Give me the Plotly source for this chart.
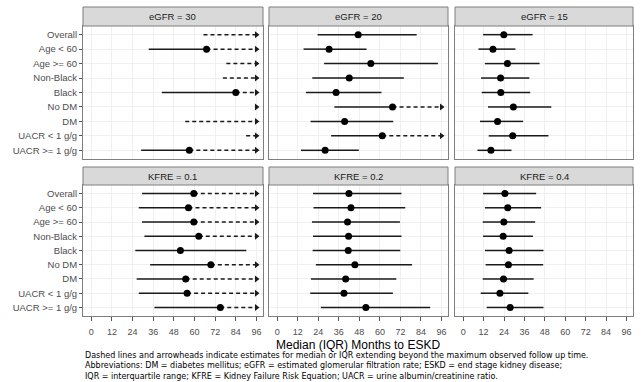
import plotly.graph_objects as go

# ---------------- data ----------------
categories = ["Overall", "Age < 60", "Age >= 60", "Non-Black", "Black",
              "No DM", "DM", "UACR < 1 g/g", "UACR >= 1 g/g"]
panel_titles = ["eGFR = 30", "eGFR = 20", "eGFR = 15",
                "KFRE = 0.1", "KFRE = 0.2", "KFRE = 0.4"]
x_ticks = [0, 12, 24, 36, 48, 60, 72, 84, 96]
MAX_FU = 96  # maximum observed follow-up (months); None = beyond it

egfr30_lower  = [65.2, 33.4, 78.5, 76.5, 41.0, None, 54.6, 90.0, 29.0]
egfr30_median = [None, 67.0, None, None, 84.0, None, None, None, 57.0]
egfr30_upper  = [None, None, None, None, None, None, None, None, None]

egfr20_lower  = [23.6, 15.4, 27.4, 20.5, 16.8, 33.4, 19.5, 31.5, 13.9]
egfr20_median = [47.3, 30.3, 54.7, 42.1, 34.4, 67.4, 39.4, 61.4, 28.0]
egfr20_upper  = [81.5, 52.2, 93.9, 74.0, 60.9, None, 67.8, None, 47.7]

egfr15_lower  = [11.7, 9.0, 12.8, 10.5, 10.9, 14.6, 9.9, 15.0, 8.4]
egfr15_median = [23.9, 17.5, 26.0, 22.0, 22.1, 29.5, 20.2, 29.1, 16.3]
egfr15_upper  = [40.8, 30.7, 44.9, 38.9, 39.4, 51.8, 35.2, 50.1, 28.4]

kfre01_lower  = [29.5, 27.6, 29.5, 30.9, 25.6, 34.2, 26.4, 27.6, 36.7]
kfre01_median = [59.6, 56.5, 59.6, 62.5, 51.8, 69.5, 54.9, 55.7, 75.0]
kfre01_upper  = [None, None, None, None, 90.1, None, None, None, None]

kfre02_lower  = [20.9, 21.2, 20.3, 20.9, 20.7, 22.6, 19.7, 19.3, 25.5]
kfre02_median = [41.9, 43.1, 41.1, 41.7, 41.5, 45.4, 40.0, 39.0, 51.8]
kfre02_upper  = [72.6, 74.8, 71.7, 72.6, 71.9, 78.8, 69.6, 67.6, 89.4]

kfre04_lower  = [11.7, 12.8, 11.5, 11.7, 12.8, 13.2, 11.5, 10.3, 13.8]
kfre04_median = [24.5, 26.2, 23.9, 23.5, 27.0, 26.6, 23.7, 21.6, 27.6]
kfre04_upper  = [42.9, 45.8, 42.3, 41.0, 47.2, 47.0, 41.4, 38.3, 47.2]

panels = [
    (egfr30_lower, egfr30_median, egfr30_upper),
    (egfr20_lower, egfr20_median, egfr20_upper),
    (egfr15_lower, egfr15_median, egfr15_upper),
    (kfre01_lower, kfre01_median, kfre01_upper),
    (kfre02_lower, kfre02_median, kfre02_upper),
    (kfre04_lower, kfre04_median, kfre04_upper),
]

# ---------------- layout geometry (pixels) ----------------
W, H = 642, 382
col_px = [(83, 263), (269, 448), (455, 633)]
row_plot_px = [(26, 159), (185, 316)]
row_strip_px = [(7, 26), (167, 185)]

def px_x(p):
    return p / W

def px_y(p):
    return 1 - p / H

FONT = "Liberation Sans, Arial, Helvetica, sans-serif"
CAP_FONT = "DejaVu Sans, Liberation Sans, Arial, sans-serif"
LINE_COLOR = "#1a1a1a"
BORDER = "#7f7f7f"

fig = go.Figure()
layout = dict(
    width=W, height=H, margin=dict(l=0, r=0, t=0, b=0),
    paper_bgcolor="white", plot_bgcolor="white", showlegend=False,
    font=dict(family=FONT, color="#1a1a1a"),
)
shapes = []
annotations = []

for k, (lo_arr, med_arr, up_arr) in enumerate(panels):
    r, c = divmod(k, 3)
    ax = "" if k == 0 else str(k + 1)
    xref, yref = "x" + ax, "y" + ax

    sx, sy, dx, dy, ay, mx, my = [], [], [], [], [], [], []
    for i, (lo, med, up) in enumerate(zip(lo_arr, med_arr, up_arr)):
        if lo is not None and med is not None:
            sx += [lo, med, None]; sy += [i, i, None]
        if med is not None and up is not None:
            sx += [med, up, None]; sy += [i, i, None]
        if med is None and lo is not None:
            dx += [lo, MAX_FU, None]; dy += [i, i, None]
        if med is not None and up is None:
            dx += [med, MAX_FU, None]; dy += [i, i, None]
        if up is None:
            ay.append(i)
        if med is not None:
            mx.append(med); my.append(i)

    fig.add_trace(go.Scatter(x=sx, y=sy, mode="lines", xaxis=xref, yaxis=yref,
                             line=dict(color=LINE_COLOR, width=1.5), hoverinfo="skip"))
    fig.add_trace(go.Scatter(x=dx, y=dy, mode="lines", xaxis=xref, yaxis=yref,
                             line=dict(color=LINE_COLOR, width=1.5, dash="4px,3px"),
                             hoverinfo="skip"))
    fig.add_trace(go.Scatter(x=[MAX_FU] * len(ay), y=ay, mode="markers",
                             xaxis=xref, yaxis=yref,
                             marker=dict(symbol="triangle-right", size=6, color=LINE_COLOR),
                             hoverinfo="skip"))
    fig.add_trace(go.Scatter(x=mx, y=my, mode="markers", xaxis=xref, yaxis=yref,
                             marker=dict(symbol="circle", size=7, color="black"),
                             hoverinfo="skip"))

    x0, x1 = col_px[c]
    y0, y1 = row_plot_px[r]
    bottom = (r == 1)
    left = (c == 0)
    layout["xaxis" + ax] = dict(
        domain=[px_x(x0), px_x(x1)], anchor=yref, range=[-4.8, 99.8],
        tickvals=x_ticks, ticktext=[str(t) for t in x_ticks],
        showticklabels=bottom, ticks="outside" if bottom else "",
        ticklen=4, tickcolor="#555555", tickwidth=1, ticklabelstandoff=3,
        tickfont=dict(size=9, color="#4d4d4d", family=FONT),
        showgrid=True, gridcolor="#f0f0f0", gridwidth=1, zeroline=False,
        showline=True, mirror=True, linecolor=BORDER, linewidth=1,
        fixedrange=True,
    )
    layout["yaxis" + ax] = dict(
        domain=[px_y(y1), px_y(y0)], anchor=xref, range=[8.6, -0.6],
        tickvals=list(range(len(categories))), ticktext=categories,
        showticklabels=left, ticks="outside" if left else "",
        ticklen=3, tickcolor="#555555", tickwidth=1,
        tickfont=dict(size=9.5, color="#4d4d4d", family=FONT),
        showgrid=True, gridcolor="#f0f0f0", gridwidth=1, zeroline=False,
        showline=True, mirror=True, linecolor=BORDER, linewidth=1,
        fixedrange=True,
    )

    s0, s1 = row_strip_px[r]
    shapes.append(dict(type="rect", xref="paper", yref="paper",
                       x0=px_x(x0), x1=px_x(x1), y0=px_y(s1), y1=px_y(s0),
                       fillcolor="#d9d9d9", line=dict(color=BORDER, width=1),
                       layer="above"))
    annotations.append(dict(text=panel_titles[k], xref="paper", yref="paper",
                            x=px_x((x0 + x1) / 2), y=px_y((s0 + s1) / 2),
                            showarrow=False, xanchor="center", yanchor="middle",
                            font=dict(size=9.5, color="#1a1a1a", family=FONT)))

# axis title
annotations.append(dict(text="Median (IQR) Months to ESKD", xref="paper", yref="paper",
                        x=px_x((col_px[0][0] + col_px[2][1]) / 2), y=px_y(345),
                        showarrow=False, xanchor="center", yanchor="middle",
                        font=dict(size=12, color="black", family=FONT)))

caption = [
    "Dashed lines and arrowheads indicate estimates for median or IQR extending beyond the maximum observed follow up time.",
    "Abbreviations: DM = diabetes mellitus; eGFR = estimated glomerular filtration rate; ESKD = end stage kidney disease;",
    "IQR = interquartile range; KFRE = Kidney Failure Risk Equation; UACR = urine albumin/creatinine ratio.",
]
annotations.append(dict(text="<br>".join(caption), xref="paper", yref="paper",
                        x=px_x(83), y=px_y(365.5),
                        showarrow=False, xanchor="left", yanchor="middle", align="left",
                        font=dict(size=8.0, color="black", family=CAP_FONT)))

layout["shapes"] = shapes
layout["annotations"] = annotations
fig.update_layout(**layout)
fig.write_html("out.html", config={"displayModeBar": False},
               post_script="document.body.style.margin='0';document.body.style.overflow='hidden';")
